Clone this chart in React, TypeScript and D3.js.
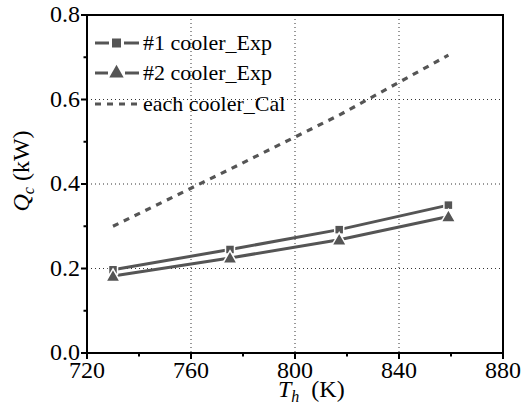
import React from "react";
import * as d3 from "d3";

const temps = [730, 775, 817, 859];
const cooler1 = [0.197, 0.245, 0.292, 0.35];
const cooler2 = [0.182, 0.225, 0.268, 0.323];
const calc = [0.3, 0.435, 0.563, 0.705];
const xTicks = [720, 760, 800, 840, 880];
const yTicks = [0.0, 0.2, 0.4, 0.6, 0.8];
const legendLabels = ["#1 cooler_Exp", "#2 cooler_Exp", "each cooler_Cal"];

const W = 524;
const H = 419;
const margin = { top: 15, right: 21, bottom: 66, left: 87 };
const SERIF = "Liberation Serif";
const GRAY = "#555";

const App = () => {
  const x = d3.scaleLinear().domain([720, 880]).range([margin.left, W - margin.right]);
  const y = d3.scaleLinear().domain([0, 0.8]).range([H - margin.bottom, margin.top]);
  const line = d3
    .line<[number, number]>()
    .x((d) => x(d[0]))
    .y((d) => y(d[1]));
  const pts = (vals: number[]) => temps.map((t, i) => [t, vals[i]] as [number, number]);

  const left = x(720);
  const right = x(880);
  const top = y(0.8);
  const bottom = y(0);
  const minorX = d3.range(740, 880, 40);
  const minorY = d3.range(0.1, 0.8, 0.2);

  // triangle marker centred on (cx, cy)
  const tri = (cx: number, cy: number, s: number) =>
    `M${cx},${cy - s * 0.6}L${cx + s * 0.6},${cy + s * 0.45}L${cx - s * 0.6},${cy + s * 0.45}Z`;

  const legendY = [43, 73, 104];

  return (
    <svg width={W} height={H} style={{ position: "absolute", left: 0, top: 0 }}>
      <rect width={W} height={H} fill="#fff" />
      {/* grid */}
      {[760, 800, 840].map((t) => (
        <line key={"gx" + t} x1={x(t)} x2={x(t)} y1={top} y2={bottom} stroke="#333" strokeWidth={1} strokeDasharray="1,3" />
      ))}
      {[0.2, 0.4, 0.6].map((v) => (
        <line key={"gy" + v} x1={left} x2={right} y1={y(v)} y2={y(v)} stroke="#333" strokeWidth={1} strokeDasharray="1,3" />
      ))}
      {/* data */}
      <path d={line(pts(calc)) || ""} fill="none" stroke={GRAY} strokeWidth={3.2} strokeDasharray="6,6" />
      <path d={line(pts(cooler1)) || ""} fill="none" stroke={GRAY} strokeWidth={3} />
      <path d={line(pts(cooler2)) || ""} fill="none" stroke={GRAY} strokeWidth={3} />
      {pts(cooler1).map((d, i) => (
        <rect key={"s" + i} x={x(d[0]) - 4.5} y={y(d[1]) - 4.5} width={9} height={9} fill={GRAY} stroke="#fff" strokeWidth={1.5} />
      ))}
      {pts(cooler2).map((d, i) => (
        <path key={"t" + i} d={tri(x(d[0]), y(d[1]), 12)} fill={GRAY} stroke="#fff" strokeWidth={1.5} />
      ))}
      {/* frame and ticks */}
      <rect x={left} y={top} width={right - left} height={bottom - top} fill="none" stroke="#000" strokeWidth={2} />
      {xTicks.map((t) => (
        <line key={"xt" + t} x1={x(t)} x2={x(t)} y1={bottom} y2={bottom + 6} stroke="#000" strokeWidth={2} />
      ))}
      {minorX.map((t) => (
        <line key={"xm" + t} x1={x(t)} x2={x(t)} y1={bottom} y2={bottom + 3.5} stroke="#000" strokeWidth={2} />
      ))}
      {yTicks.map((v) => (
        <line key={"yt" + v} x1={left - 6} x2={left} y1={y(v)} y2={y(v)} stroke="#000" strokeWidth={2} />
      ))}
      {minorY.map((v) => (
        <line key={"ym" + v} x1={left - 3.5} x2={left} y1={y(v)} y2={y(v)} stroke="#000" strokeWidth={2} />
      ))}
      {xTicks.map((t) => (
        <text key={"xl" + t} x={x(t)} y={bottom + 25} textAnchor="middle" fontSize={24} fontFamily={SERIF}>
          {t}
        </text>
      ))}
      {yTicks.map((v) => (
        <text key={"yl" + v} x={left - 7} y={y(v) + 7} textAnchor="end" fontSize={24} fontFamily={SERIF}>
          {v.toFixed(1)}
        </text>
      ))}
      {/* axis titles */}
      <text x={278} y={397} fontSize={24} fontFamily={SERIF}>
        <tspan fontStyle="italic">T</tspan>
        <tspan fontStyle="italic" fontSize={16} dy={5}>h</tspan>
        <tspan dy={-5}>{"\u00a0\u00a0(K)"}</tspan>
      </text>
      <text transform={`translate(29,171) rotate(-90)`} textAnchor="middle" fontSize={24} fontFamily={SERIF}>
        <tspan fontStyle="italic">Q</tspan>
        <tspan fontStyle="italic" fontSize={16} dy={5}>c</tspan>
        <tspan dy={-5}>{"\u00a0(kW)"}</tspan>
      </text>
      {/* legend */}
      <line x1={95} x2={109} y1={legendY[0]} y2={legendY[0]} stroke={GRAY} strokeWidth={3} />
      <line x1={124} x2={139} y1={legendY[0]} y2={legendY[0]} stroke={GRAY} strokeWidth={3} />
      <rect x={112} y={legendY[0] - 4.5} width={9} height={9} fill={GRAY} />
      <line x1={95} x2={108} y1={legendY[1]} y2={legendY[1]} stroke={GRAY} strokeWidth={3} />
      <line x1={125} x2={139} y1={legendY[1]} y2={legendY[1]} stroke={GRAY} strokeWidth={3} />
      <path d={tri(116.5, legendY[1] - 1, 12)} fill={GRAY} />
      <line x1={95} x2={141} y1={legendY[2]} y2={legendY[2]} stroke={GRAY} strokeWidth={3.2} strokeDasharray="6,6" />
      {legendLabels.map((lab, i) => (
        <text key={lab} x={143} y={legendY[i] + 7} fontSize={22} fontFamily={SERIF}>
          {lab}
        </text>
      ))}
    </svg>
  );
};

export default App;
